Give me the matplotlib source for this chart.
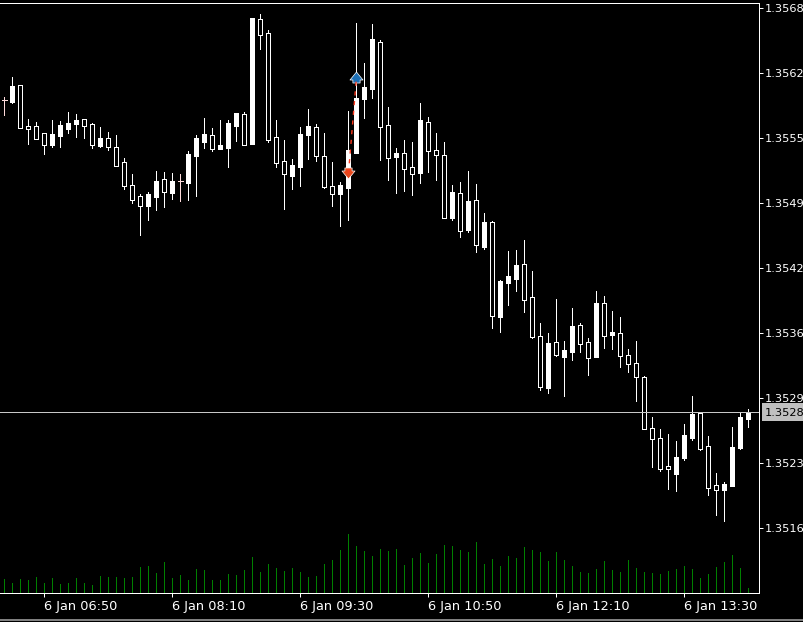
import matplotlib
matplotlib.use("Agg")
import matplotlib.pyplot as plt
from matplotlib.path import Path
from matplotlib.patches import Rectangle
from matplotlib.lines import Line2D

# one bar per 10 minutes
opens = [
    1.35588, 1.35602, 1.35560, 1.35559, 1.35549, 1.35543, 1.35554, 1.35563, 1.35565, 1.35568,
    1.35562, 1.35543, 1.35550, 1.35541, 1.35522, 1.35502, 1.35488, 1.35482, 1.35494, 1.35507,
    1.35496, 1.35507, 1.35507, 1.35534, 1.35550, 1.35554, 1.35539, 1.35543, 1.35565, 1.35575,
    1.35543, 1.35670, 1.35653, 1.35548, 1.35525, 1.35514, 1.35523, 1.35554, 1.35562, 1.35532,
    1.35501, 1.35494, 1.35503, 1.35538, 1.35590, 1.35601, 1.35649, 1.35561, 1.35530, 1.35535,
    1.35519, 1.35514, 1.35568, 1.35537, 1.35533, 1.35470, 1.35496, 1.35457, 1.35487, 1.35443,
    1.35466, 1.35372, 1.35407, 1.35412, 1.35423, 1.35388, 1.35351, 1.35301, 1.35345, 1.35333,
    1.35338, 1.35362, 1.35344, 1.35330, 1.35385, 1.35352, 1.35356, 1.35332, 1.35324, 1.35311,
    1.35259, 1.35249, 1.35219, 1.35219, 1.35231, 1.35253, 1.35274, 1.35239, 1.35200, 1.35198,
    1.35204, 1.35241, 1.35271, 1.35276,
]
highs = [
    1.35591, 1.35611, 1.35603, 1.35569, 1.35566, 1.35555, 1.35568, 1.35567, 1.35576, 1.35574,
    1.35569, 1.35565, 1.35561, 1.35556, 1.35553, 1.35530, 1.35514, 1.35494, 1.35496, 1.35517,
    1.35516, 1.35515, 1.35514, 1.35537, 1.35553, 1.35570, 1.35560, 1.35568, 1.35568, 1.35575,
    1.35576, 1.35670, 1.35674, 1.35658, 1.35568, 1.35548, 1.35529, 1.35561, 1.35579, 1.35564,
    1.35555, 1.35526, 1.35506, 1.35577, 1.35665, 1.35625, 1.35664, 1.35648, 1.35581, 1.35540,
    1.35548, 1.35546, 1.35585, 1.35571, 1.35555, 1.35546, 1.35503, 1.35506, 1.35517, 1.35504,
    1.35475, 1.35467, 1.35408, 1.35437, 1.35438, 1.35448, 1.35417, 1.35365, 1.35355, 1.35389,
    1.35347, 1.35380, 1.35365, 1.35350, 1.35397, 1.35392, 1.35377, 1.35371, 1.35339, 1.35347,
    1.35312, 1.35271, 1.35259, 1.35254, 1.35247, 1.35264, 1.35292, 1.35275, 1.35252, 1.35215,
    1.35206, 1.35261, 1.35276, 1.35279,
]
lows = [
    1.35573, 1.35585, 1.35560, 1.35544, 1.35549, 1.35534, 1.35541, 1.35541, 1.35555, 1.35551,
    1.35550, 1.35540, 1.35541, 1.35538, 1.35522, 1.35499, 1.35485, 1.35453, 1.35468, 1.35478,
    1.35481, 1.35489, 1.35487, 1.35488, 1.35492, 1.35540, 1.35537, 1.35539, 1.35521, 1.35547,
    1.35543, 1.35544, 1.35639, 1.35546, 1.35521, 1.35479, 1.35499, 1.35502, 1.35529, 1.35527,
    1.35500, 1.35482, 1.35462, 1.35468, 1.35535, 1.35570, 1.35590, 1.35528, 1.35508, 1.35495,
    1.35497, 1.35493, 1.35505, 1.35516, 1.35508, 1.35470, 1.35468, 1.35451, 1.35456, 1.35436,
    1.35439, 1.35360, 1.35356, 1.35383, 1.35397, 1.35376, 1.35350, 1.35298, 1.35295, 1.35332,
    1.35292, 1.35328, 1.35336, 1.35313, 1.35331, 1.35340, 1.35339, 1.35321, 1.35316, 1.35287,
    1.35259, 1.35221, 1.35217, 1.35199, 1.35197, 1.35228, 1.35248, 1.35238, 1.35193, 1.35173,
    1.35167, 1.35202, 1.35239, 1.35261,
]
closes = [
    1.35588, 1.35586, 1.35603, 1.35562, 1.35562, 1.35555, 1.35543, 1.35552, 1.35559, 1.35564,
    1.35569, 1.35564, 1.35542, 1.35550, 1.35541, 1.35526, 1.35503, 1.35492, 1.35482, 1.35491,
    1.35509, 1.35495, 1.35507, 1.35505, 1.35532, 1.35546, 1.35553, 1.35539, 1.35540, 1.35562,
    1.35574, 1.35544, 1.35669, 1.35655, 1.35551, 1.35527, 1.35512, 1.35521, 1.35553, 1.35561,
    1.35532, 1.35502, 1.35494, 1.35500, 1.35535, 1.35589, 1.35599, 1.35646, 1.35563, 1.35531,
    1.35535, 1.35521, 1.35515, 1.35566, 1.35538, 1.35533, 1.35470, 1.35495, 1.35458, 1.35488,
    1.35441, 1.35466, 1.35371, 1.35405, 1.35409, 1.35424, 1.35391, 1.35352, 1.35300, 1.35346,
    1.35331, 1.35336, 1.35363, 1.35346, 1.35331, 1.35385, 1.35353, 1.35355, 1.35333, 1.35325,
    1.35311, 1.35260, 1.35250, 1.35222, 1.35214, 1.35230, 1.35250, 1.35275, 1.35242, 1.35203,
    1.35198, 1.35202, 1.35240, 1.35269,
]
volumes = [
    14, 10, 14, 13, 16, 10, 15, 9, 10, 15,
    10, 8, 17, 16, 16, 15, 16, 26, 27, 20,
    31, 15, 18, 13, 24, 23, 13, 13, 19, 18,
    23, 36, 21, 29, 25, 22, 25, 21, 16, 17,
    29, 33, 43, 59, 47, 42, 37, 44, 42, 44,
    28, 35, 40, 30, 39, 48, 47, 43, 41, 51,
    29, 34, 27, 37, 35, 46, 43, 41, 32, 41,
    33, 27, 21, 20, 24, 32, 23, 21, 33, 25,
    21, 20, 19, 22, 24, 27, 24, 15, 19, 26,
    31, 38, 25, 5,
]

price_ticks = [1.3568, 1.35615, 1.3555, 1.35485, 1.3542, 1.35355, 1.3529, 1.35225, 1.3516]
price_labels = ["1.3568", "1.3562", "1.3555", "1.3549", "1.3542", "1.3536", "1.3529", "1.3523", "1.3516"]
time_ticks = [5, 21, 37, 53, 69, 85]
time_labels = ["6 Jan 06:50", "6 Jan 08:10", "6 Jan 09:30", "6 Jan 10:50", "6 Jan 12:10", "6 Jan 13:30"]

bid_price = 1.35276
bid_label = "1.3528"
trade_bars = [43, 44]
trade_prices = [1.35515, 1.35611]

W, H = 804, 622
PX = 0.72  # one screen pixel in points at dpi 100
FG = "#ffffff"


def arrow_marker(up=True):
    verts = [(0, 5.5), (6.5, -2.5), (3.6, -2.5), (3.6, -5.5), (-3.6, -5.5), (-3.6, -2.5), (-6.5, -2.5), (0, 5.5)]
    if not up:
        verts = [(x, -y) for x, y in verts]
    return Path(verts, closed=True)


def draw_candles(ax):
    for i in range(len(opens)):
        o, h, l, c = opens[i], highs[i], lows[i], closes[i]
        col = "#ffdcdc" if o == c else FG
        ax.vlines(i, l, h, color=col, linewidth=PX, antialiased=False, zorder=3)
        if o == c:
            ax.hlines(o, i - 0.3, i + 0.3, color=col, linewidth=PX, antialiased=False, zorder=4)
            continue
        ax.bar(
            i,
            abs(c - o),
            bottom=min(o, c),
            width=0.5,
            facecolor="#000000" if c > o else FG,
            edgecolor=FG,
            linewidth=PX,
            antialiased=False,
            zorder=4,
        )


def main():
    plt.rcParams["font.family"] = ["DejaVu Sans"]
    fig = plt.figure(figsize=(W / 100, H / 100), dpi=100, facecolor="#000000")
    ax = fig.add_axes([0, (H - 592.5) / H, 759.5 / W, 590 / H], facecolor="#000000")

    ax.set_xlim(-4.5 / 8, (759.5 - 4.5) / 8)
    ax.set_ylim(1.35688 - 592.5e-5, 1.35688 - 2.5e-5)

    draw_candles(ax)

    ax.axhline(bid_price, color="#c8c8c8", linewidth=PX, zorder=5)

    # trade entry / exit, the dashes run over the arrows
    ax.plot(trade_bars[0], trade_prices[0], marker=arrow_marker(False), markersize=9.4,
            markerfacecolor="#e8481c", markeredgecolor=FG, markeredgewidth=PX * 0.7, zorder=6)
    ax.plot(trade_bars[1], trade_prices[1], marker=arrow_marker(True), markersize=9.4,
            markerfacecolor="#1c6fb5", markeredgecolor=FG, markeredgewidth=PX * 0.7, zorder=6)
    ax.plot(trade_bars, trade_prices, color="#ff3a1e", linewidth=1.0, linestyle=(0, (3, 4)), zorder=7)

    # volumes share the x axis, one unit is one pixel
    vol_ax = ax.twinx()
    vol_ax.set_ylim(0, 590)
    vol_ax.vlines(range(len(volumes)), 0, volumes, color="#008000", linewidth=PX, antialiased=False)
    vol_ax.set_yticks([])
    vol_ax.patch.set_visible(False)

    ax.yaxis.tick_right()
    ax.set_yticks(price_ticks)
    ax.set_yticklabels(price_labels)
    ax.set_xticks(time_ticks)
    ax.set_xticklabels(time_labels, ha="left")
    ax.tick_params(axis="both", colors=FG, length=2.9, width=PX, pad=0.8)
    ax.tick_params(axis="y", labelsize=8.2)
    ax.tick_params(axis="x", labelsize=9.3, pad=2.5)
    for side, spine in ax.spines.items():
        spine.set_visible(side in ("top", "right", "bottom"))
        spine.set_color(FG)
        spine.set_linewidth(PX)
    for side, spine in vol_ax.spines.items():
        spine.set_visible(False)

    # current price tag on the scale
    y_tag = (H - 412.5) / H
    fig.add_artist(Rectangle((762 / W, (H - 421) / H), 42 / W, 18 / H, transform=fig.transFigure,
                             facecolor="#c0c0c0", edgecolor="none"))
    fig.text(765 / W, y_tag, bid_label, color="#000000", fontsize=8.2, va="center", ha="left")

    # window border at the very bottom
    fig.add_artist(Rectangle((0, (H - 621) / H), 1, 2 / H, transform=fig.transFigure,
                             facecolor="#808080", edgecolor="none"))

    fig.savefig("out.png", dpi=100, facecolor=fig.get_facecolor())
    plt.close(fig)


if __name__ == "__main__":
    main()
